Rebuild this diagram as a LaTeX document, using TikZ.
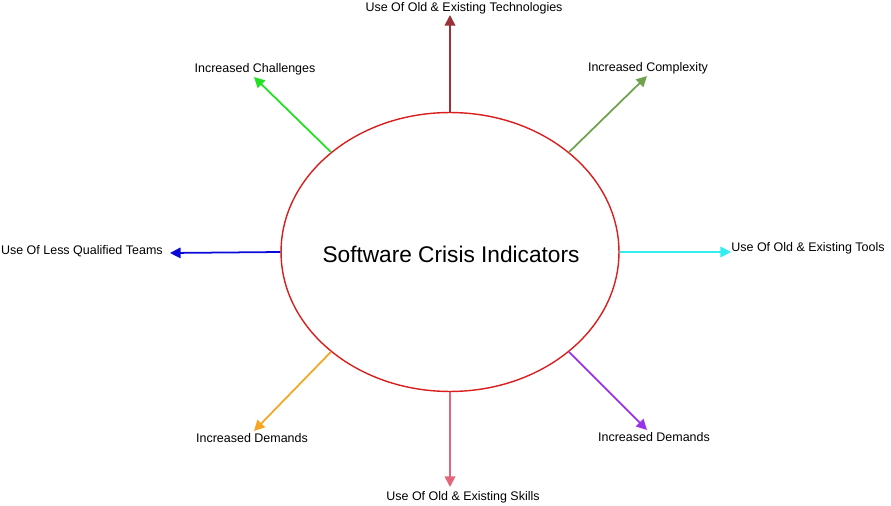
\documentclass[tikz,border=0pt]{standalone}
\usepackage{fontspec}
\setmainfont{Liberation Sans}
\usepackage{xcolor}
\usetikzlibrary{shapes.geometric,arrows.meta}
\definecolor{CrisisRed}{HTML}{D91E1E}
\definecolor{TechBrown}{HTML}{993338}
\definecolor{ComplexGreen}{HTML}{6FA24F}
\definecolor{ChallGreen}{HTML}{22E022}
\definecolor{TeamBlue}{HTML}{0A0AD8}
\definecolor{ToolCyan}{HTML}{33EEF0}
\definecolor{DemPurple}{HTML}{9933E8}
\definecolor{SkillPink}{HTML}{E3667A}
\definecolor{DemOrange}{HTML}{F5A623}
\tikzset{
    indicator/.style={-{Triangle[length=6pt,width=6pt]},line width=1pt},
    tag/.style={font=\fontsize{7.1}{8}\selectfont,inner sep=0pt}
}

\begin{document}
\begin{tikzpicture}[x=0.02cm,y=-0.02cm]
    \useasboundingbox (0,0) rectangle (891,506);

    \node[ellipse,draw=CrisisRed,line width=0.8pt,minimum width=6.76cm,minimum height=5.58cm,inner sep=0pt] (crisis) at (450,252) {};
    \node[font=\fontsize{12.9}{15}\selectfont] (title) at (451,254) {Software Crisis Indicators};

    % arrow tips
    \coordinate (techTip) at (450,15);
    \coordinate (complexTip) at (647,76);
    \coordinate (challTip) at (254,77);
    \coordinate (teamTip) at (170,253);
    \coordinate (toolTip) at (731,252);
    \coordinate (demRTip) at (647,430);
    \coordinate (skillTip) at (450,487);
    \coordinate (demLTip) at (254,431);

    % labels
    \node[tag] (tech) at (464,8) {Use Of Old \& Existing Technologies};
    \node[tag] (complex) at (648,68) {Increased Complexity};
    \node[tag] (chall) at (255,69) {Increased Challenges};
    \node[tag,anchor=east] (team) at (163,251) {Use Of Less Qualified Teams};
    \node[tag,anchor=west] (tool) at (731,248) {Use Of Old \& Existing Tools};
    \node[tag] (demR) at (654,437) {Increased Demands};
    \node[tag] (skill) at (463,497) {Use Of Old \& Existing Skills};
    \node[tag] (demL) at (252,438) {Increased Demands};

    \draw[indicator,TechBrown] (crisis.north) -- (techTip);
    \draw[indicator,ComplexGreen] (crisis.40) -- (complexTip);
    \draw[indicator,ChallGreen] (crisis.140) -- (challTip);
    \draw[indicator,TeamBlue] (crisis.west) -- (teamTip);
    \draw[indicator,ToolCyan] (crisis.east) -- (toolTip);
    \draw[indicator,DemPurple] (crisis.-40) -- (demRTip);
    \draw[indicator,SkillPink] (crisis.south) -- (skillTip);
    \draw[indicator,DemOrange] (crisis.-140) -- (demLTip);
\end{tikzpicture}
\end{document}
